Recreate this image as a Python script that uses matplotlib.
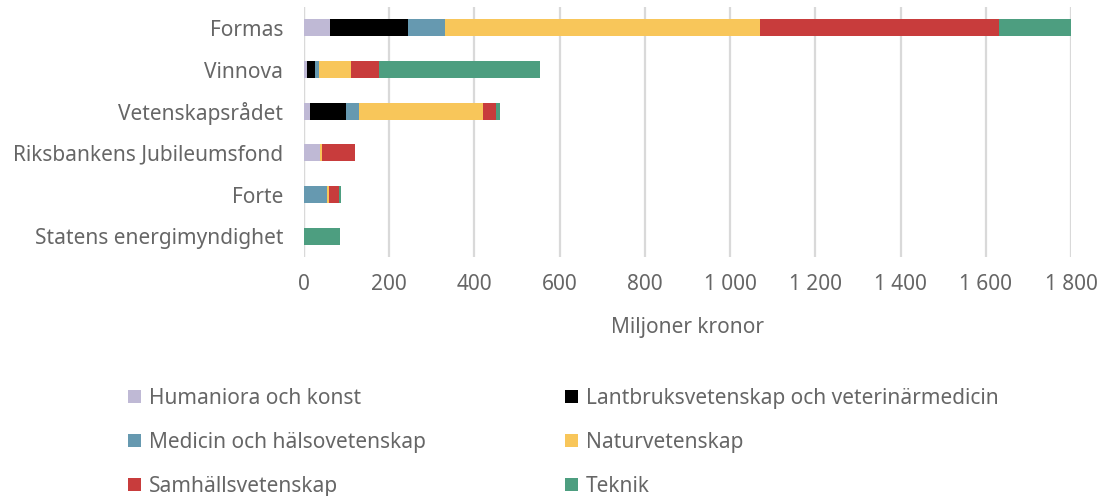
import matplotlib
matplotlib.use("Agg")
import matplotlib.pyplot as plt
from matplotlib.patches import Patch
from matplotlib.ticker import FuncFormatter, MultipleLocator
import numpy as np

plt.rcParams['font.family'] = ['Noto Sans', 'DejaVu Sans']

categories = ["Formas", "Vinnova", "Vetenskapsrådet", "Riksbankens Jubileumsfond",
              "Forte", "Statens energimyndighet"]
series_names = ["Humaniora och konst", "Lantbruksvetenskap och veterinärmedicin",
                "Medicin och hälsovetenskap", "Naturvetenskap",
                "Samhällsvetenskap", "Teknik"]
humaniora = [61, 7, 14, 37, 0, 0]
lantbruk = [183, 19, 85, 0, 0, 0]
medicin = [87, 9, 30, 0, 54, 0]
natur = [740, 75, 291, 5, 4, 0]
samhalle = [559, 66, 31, 78, 24, 0]
teknik = [176, 378, 9, 0, 5, 85]
colors = ["#bfb9d5", "#000000", "#6699b0", "#f8c65a", "#c83c3c", "#4d9e80"]

series = [humaniora, lantbruk, medicin, natur, samhalle, teknik]
text_color = "#666666"
fs = 15

fig = plt.figure(figsize=(11.04, 4.96), dpi=100)
ax = fig.add_axes([304/1104, 1-257/496, 767/1104, 250/496])

y = np.arange(len(categories))
left = np.zeros(len(categories))
handles = []
for vals, name, c in zip(series, series_names, colors):
    ax.barh(y, vals, left=left, height=0.41, color=c, zorder=3)
    left += np.array(vals, dtype=float)
    handles.append(Patch(facecolor=c, edgecolor='none', label=name))

ax.set_yticks(y)
ax.set_yticklabels(categories)
ax.set_ylim(len(categories) - 0.5, -0.5)
ax.set_xlim(0, 1800)
ax.xaxis.set_major_locator(MultipleLocator(200))
ax.xaxis.set_major_formatter(FuncFormatter(lambda v, p: f"{int(v):,}".replace(",", " ")))
ax.grid(axis='x', color='#d9d9d9', linewidth=1.6, zorder=0)
for s in ax.spines.values():
    s.set_visible(False)
ax.axvline(0, color='#d9d9d9', linewidth=1.6, zorder=1)
ax.tick_params(axis='both', length=0, labelsize=fs, colors=text_color)
ax.tick_params(axis='x', pad=12)
ax.tick_params(axis='y', pad=15)
ax.set_xlabel("Miljoner kronor", fontsize=fs, color=text_color, labelpad=16)

leg_kw = dict(frameon=False, fontsize=fs, handlelength=0.6, handleheight=0.6,
              handletextpad=0.4, labelspacing=1.1, borderaxespad=0, borderpad=0,
              labelcolor=text_color)
l1 = fig.legend(handles=[handles[0], handles[2], handles[4]], loc='upper left',
                bbox_to_anchor=(128/1104, 1-388/496), **leg_kw)
l2 = fig.legend(handles=[handles[1], handles[3], handles[5]], loc='upper left',
                bbox_to_anchor=(565/1104, 1-388/496), **leg_kw)

fig.savefig("out.png", dpi=100)
